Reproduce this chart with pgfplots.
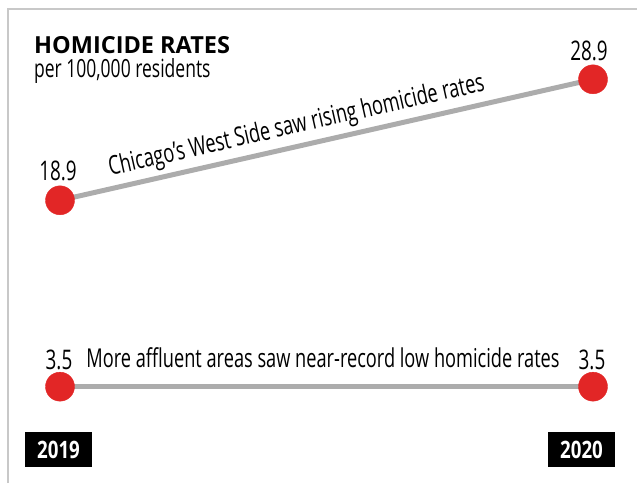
\documentclass[border=0pt]{standalone}
\usepackage{pgfplots}
\pgfplotsset{compat=1.18}
\usepackage{fontspec}
\setmainfont{Open Sans}
\newfontfamily\cond[FakeStretch=0.70]{Open Sans}
\newfontfamily\condbold[FakeStretch=0.78]{Open Sans Bold}
\definecolor{dotred}{RGB}{226,38,38}
\definecolor{linegray}{RGB}{172,172,172}
\definecolor{framegray}{RGB}{200,200,200}
\begin{document}
\begin{tikzpicture}[x=1pt,y=1pt]
  \path[use as bounding box] (0,0) rectangle (637,483);
  % frame: top and left only
  \draw[framegray, line width=2pt] (8,0) -- (8,474) -- (637,474);

  \begin{axis}[
      at={(60pt,54pt)}, anchor=south west,
      scale only axis, width=533pt, height=423.5pt,
      xmin=2019, xmax=2020, ymin=0, ymax=35,
      hide axis, clip=false,
    ]
    % West Side
    \addplot[linegray, line width=5pt] coordinates {(2019,18.9) (2020,28.9)};
    % affluent areas
    \addplot[linegray, line width=5pt] coordinates {(2019,3.5) (2020,3.5)};
    \addplot[only marks, mark=*, mark size=14.5pt, dotred, mark options={draw=dotred, fill=dotred}]
      coordinates {(2019,18.9) (2020,28.9) (2019,3.5) (2020,3.5)};
  \end{axis}

  % titles
  \node[anchor=base west, inner sep=0, font=\bfseries\fontsize{23.5}{26}\selectfont] at (34,429) {HOMICIDE RATES};
  \node[anchor=base west, inner sep=0, font=\cond\fontsize{25}{28}\selectfont] at (34,405) {per 100,000 residents};

  % value labels
  \begin{scope}[every node/.style={anchor=base, inner sep=0, font=\cond\fontsize{27}{30}\selectfont}]
    \node at (58,303) {18.9};
    \node at (589,422) {28.9};
    \node at (59,114) {3.5};
    \node at (592,114) {3.5};
  \end{scope}

  % annotations
  \node[anchor=base, inner sep=0, rotate=12.8, font=\cond\fontsize{26}{30}\selectfont] at (298,350) {Chicago’s West Side saw rising homicide rates};
  \node[anchor=base, inner sep=0, font=\cond\fontsize{26}{30}\selectfont] at (323,116) {More affluent areas saw near-record low homicide rates};

  % year boxes
  \fill[black] (25,16) rectangle (92,51);
  \fill[black] (548,16) rectangle (615,51);
  \node[white, inner sep=0, font=\condbold\fontsize{24}{26}\selectfont] at (58.5,33.5) {2019};
  \node[white, inner sep=0, font=\condbold\fontsize{24}{26}\selectfont] at (581.5,33.5) {2020};
\end{tikzpicture}
\end{document}
